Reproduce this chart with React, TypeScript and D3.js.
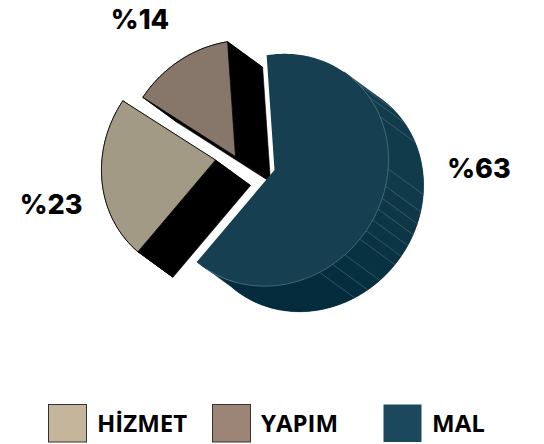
import React from 'react'
import * as d3 from 'd3'

const categories = ['MAL', 'HİZMET', 'YAPIM']
const values = [63, 23, 14]
const percentLabels = ['%63', '%23', '%14']
const legendOrder = ['HİZMET', 'YAPIM', 'MAL']

// cw degrees from north where the side of the big slice has a seam
const seamAngles = [44.8, 53.6, 65.2, 92, 100.5, 106.6, 112.2, 118, 124, 129, 139.4, 146.8, 154.2]

const topColors = { MAL: '#173f52', 'HİZMET': '#a39a85', YAPIM: '#87766a' }
const legendColors = { MAL: '#1b485c', 'HİZMET': '#c4b59b', YAPIM: '#9c8577' }
const centers = { MAL: [274.5, 170], 'HİZMET': [215.5, 160], YAPIM: [235.5, 156.5] }
const labelPos = { MAL: [479, 178], 'HİZMET': [51, 214], YAPIM: [140, 29] }
const legendPos = { 'HİZMET': 48, YAPIM: 212, MAL: 383 }

const radius = 115
const depth = [35, 25.5]
const rad = Math.PI / 180

const sideColor = d3.scaleLinear<string>()
  .domain([35, 92, 155, 222])
  .range(['#133b4c', '#113a4b', '#042c3c', '#042c3c'])

// the pie is seen at a slight slant: stretched along one diagonal
const stretchAxis = 129 * rad
const sa = 1.045
const sb = 0.955
function slant(p: number[]) {
  const c = Math.cos(stretchAxis)
  const s = Math.sin(stretchAxis)
  const u = (p[0] * c + p[1] * s) * sa
  const v = (-p[0] * s + p[1] * c) * sb
  return [u * c - v * s, u * s + v * c]
}

function rimPoint(name: string, deg: number, r = radius) {
  const p = slant(d3.pointRadial(deg * rad, r))
  return [p[0] + centers[name][0], p[1] + centers[name][1]]
}

function rimPoints(name: string, a0: number, a1: number) {
  return d3.range(a0, a1, 1).concat(a1).map(a => rimPoint(name, a))
}

const shift = (p: number[]) => [p[0] + depth[0], p[1] + depth[1]]
const lineGen = d3.line()

const pie = d3.pie<number>().sort(null).startAngle(-6.5 * rad).endAngle((360 - 6.5) * rad)
const arcs = pie(values).map((d, i) => ({
  name: categories[i],
  a0: d.startAngle / rad,
  a1: d.endAngle / rad,
}))

function Slice({ s }) {
  const rim = rimPoints(s.name, s.a0, s.a1)
  const outline = [centers[s.name], ...rim]
  return (
    <g>
      {outline.map((p, i) => {
        const q = outline[(i + 1) % outline.length]
        return <path key={i} d={lineGen([p, q, shift(q), shift(p)]) + 'Z'} fill="#000" stroke="#000" strokeWidth={0.6} />
      })}
      <path d={lineGen(outline) + 'Z'} fill={topColors[s.name]} stroke="#000" strokeWidth={0.8} />
    </g>
  )
}

function BigSlice({ s }) {
  const rim = rimPoints(s.name, s.a0, s.a1)
  const outline = [centers[s.name], ...rim]
  const edges = [35, ...seamAngles, s.a1]
  return (
    <g>
      <path d={lineGen(outline.map(shift)) + 'Z'} fill={sideColor(s.a1)} />
      {edges.slice(0, -1).map((a, i) => {
        const seg = rimPoints(s.name, a, edges[i + 1])
        return (
          <path key={a} d={lineGen([...seg, ...seg.slice().reverse().map(shift)]) + 'Z'}
            fill={sideColor((a + edges[i + 1]) / 2)} stroke={sideColor((a + edges[i + 1]) / 2)} strokeWidth={0.6} />
        )
      })}
      {seamAngles.map(a => {
        const p = rimPoint(s.name, a)
        return <path key={a} d={lineGen([p, shift(p)])} stroke="#5f7f8d" strokeWidth={0.5} fill="none" />
      })}
      <path d={lineGen(outline) + 'Z'} fill={topColors[s.name]} />
      <path d={lineGen(rimPoints(s.name, 40, s.a1 - 6))} fill="none" stroke="#7d96a1" strokeWidth={0.5} />
    </g>
  )
}

export default function App() {
  return (
    <svg width={544} height={444} style={{ position: 'absolute', left: 0, top: 0, display: 'block' }}>
      <rect width={544} height={444} fill="#fff" />
      {arcs.filter(s => s.name !== 'MAL').map(s => <Slice key={s.name} s={s} />)}
      {arcs.filter(s => s.name === 'MAL').map(s => <BigSlice key={s.name} s={s} />)}
      {categories.map((c, i) => (
        <text key={c} x={labelPos[c][0]} y={labelPos[c][1]} textAnchor="middle"
          fontFamily="Inter" fontWeight={800} fontSize={27} fill="#000">{percentLabels[i]}</text>
      ))}
      {legendOrder.map(c => (
        <g key={c}>
          <rect x={legendPos[c] + 0.5} y={404.5} width={38} height={37.5}
            fill={legendColors[c]} stroke={c === 'MAL' ? 'none' : '#333'} strokeWidth={1} />
          <text x={legendPos[c] + 49} y={432} fontFamily="Open Sans" fontWeight={700} fontSize={24} fill="#000">{c}</text>
        </g>
      ))}
    </svg>
  )
}
